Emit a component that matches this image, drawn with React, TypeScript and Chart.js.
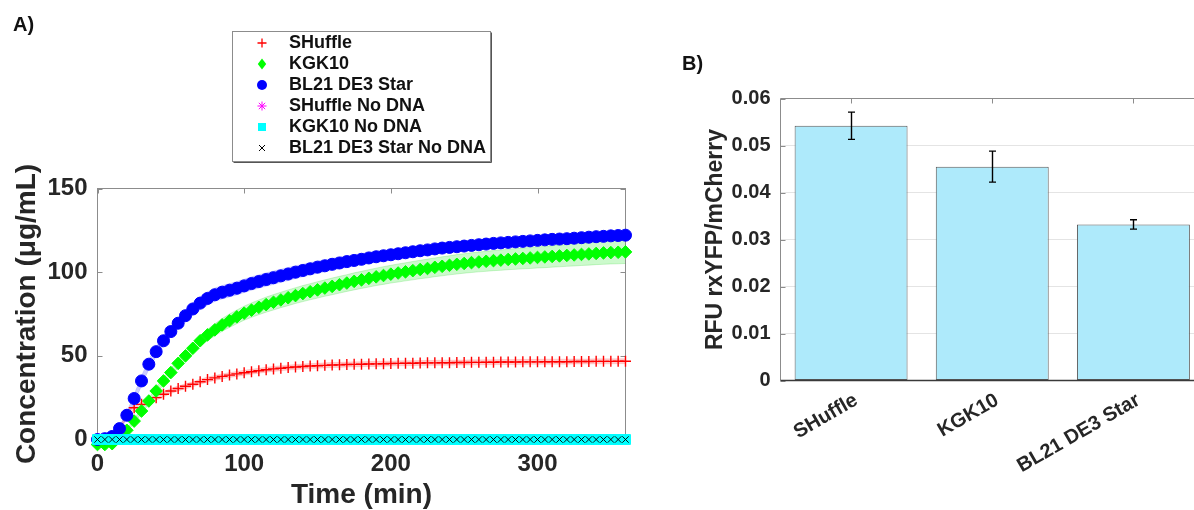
import React, { useEffect, useRef } from 'react';
import { Chart, registerables } from 'chart.js';

Chart.register(...registerables);

const FONT = "'Liberation Sans', Arial, Helvetica, sans-serif";
const TEXT = '#262626';

// ---------- Panel A: concentration vs time ----------
const TIME_MIN = [
  0, 5, 10, 15, 20, 25, 30, 35, 40, 45,
  50, 55, 60, 65, 70, 75, 80, 85, 90, 95,
  100, 105, 110, 115, 120, 125, 130, 135, 140, 145,
  150, 155, 160, 165, 170, 175, 180, 185, 190, 195,
  200, 205, 210, 215, 220, 225, 230, 235, 240, 245,
  250, 255, 260, 265, 270, 275, 280, 285, 290, 295,
  300, 305, 310, 315, 320, 325, 330, 335, 340, 345,
  350, 355, 360,
];

const SHUFFLE = [
  0, 0, 0.5, 6, 15, 19, 21, 23, 25, 27,
  29, 30.5, 31.8, 33, 34.5, 35.8, 36.8, 37.7, 38.5, 39.2,
  39.9, 40.5, 41.1, 41.7, 42.2, 42.6, 43, 43.3, 43.6, 43.9,
  44.1, 44.3, 44.5, 44.6, 44.8, 44.9, 45, 45.1, 45.2, 45.3,
  45.4, 45.5, 45.6, 45.6, 45.7, 45.8, 45.8, 45.9, 45.9, 46,
  46, 46.1, 46.1, 46.2, 46.2, 46.3, 46.3, 46.3, 46.4, 46.4,
  46.4, 46.5, 46.5, 46.5, 46.5, 46.6, 46.6, 46.6, 46.7, 46.7,
  46.7, 46.8, 46.8,
];
const SHUFFLE_SD = [
  0, 0, 0.3, 1, 1.5, 1.5, 1.5, 1.5, 1.5, 1.5,
  1.5, 1.5, 1.5, 1.5, 1.5, 1.5, 1.5, 1.5, 1.5, 1.5,
  1.5, 1.5, 1.5, 1.5, 1.5, 1.5, 1.5, 1.5, 1.5, 1.5,
  1.5, 1.5, 1.5, 1.5, 1.5, 1.5, 1.5, 1.5, 1.5, 1.5,
  1.5, 1.5, 1.5, 1.5, 1.5, 1.5, 1.5, 1.5, 1.5, 1.5,
  1.5, 1.5, 1.5, 1.5, 1.5, 1.5, 1.5, 1.5, 1.5, 1.5,
  1.5, 1.5, 1.5, 1.5, 1.5, 1.5, 1.5, 1.5, 1.5, 1.5,
  1.5, 1.5, 1.5,
];

const KGK10 = [
  -3, -3, -2.5, 1, 5.5, 11, 17, 23, 29, 35,
  40, 45.5, 50, 54.5, 59, 62.5, 65.5, 68.5, 71, 73.3,
  75.5, 77.3, 79, 80.6, 82, 83.4, 84.7, 86, 87.2, 88.3,
  89.4, 90.5, 91.5, 92.5, 93.5, 94.5, 95.4, 96.3, 97.2, 98,
  98.8, 99.5, 100.2, 100.9, 101.6, 102.2, 102.9, 103.5, 104.1, 104.7,
  105.2, 105.7, 106.1, 106.5, 106.9, 107.2, 107.6, 107.9, 108.2, 108.5,
  108.8, 109.1, 109.4, 109.7, 110, 110.3, 110.6, 110.9, 111.2, 111.5,
  111.7, 111.9, 112.1,
];
const KGK10_SD = [
  0.5, 0.5, 0.5, 0.8, 1, 1.2, 1.5, 1.8, 2, 2.2,
  2.4, 2.6, 2.8, 3, 3.2, 3.4, 3.6, 3.8, 4, 4.1,
  4.2, 4.3, 4.4, 4.5, 4.6, 4.6, 4.7, 4.7, 4.8, 4.8,
  4.9, 4.9, 5, 5, 5, 5.1, 5.1, 5.2, 5.2, 5.3,
  5.3, 5.4, 5.4, 5.5, 5.5, 5.6, 5.6, 5.7, 5.7, 5.8,
  5.8, 5.9, 5.9, 6, 6, 6.1, 6.1, 6.2, 6.2, 6.3,
  6.3, 6.4, 6.4, 6.5, 6.5, 6.6, 6.6, 6.7, 6.7, 6.8,
  6.8, 6.9, 6.9,
];

const BL21 = [
  0, 0.5, 1.8, 6.5, 14.5, 24.5, 35, 45, 52.5, 59,
  64.5, 69.5, 74, 78, 81.5, 84.3, 86.5, 88, 89.2, 90.4,
  91.8, 93.2, 94.4, 95.6, 96.7, 97.8, 98.9, 100, 101, 102,
  103, 103.8, 104.7, 105.5, 106.3, 107, 107.7, 108.5, 109.2, 109.8,
  110.4, 111, 111.6, 112.2, 112.8, 113.3, 113.9, 114.4, 114.8, 115.2,
  115.6, 116, 116.4, 116.8, 117.2, 117.5, 117.8, 118.1, 118.4, 118.7,
  119, 119.3, 119.6, 119.8, 120, 120.3, 120.6, 120.9, 121.2, 121.4,
  121.7, 121.9, 122.1,
];
const BL21_SD = [
  0.3, 0.5, 1, 1.5, 2, 2.5, 3, 3, 3, 3,
  3.2, 3.4, 3.6, 3.8, 4, 4, 4, 4, 4, 4,
  4, 4, 4, 4, 4, 3.9, 3.9, 3.8, 3.8, 3.7,
  3.7, 3.6, 3.6, 3.5, 3.5, 3.5, 3.4, 3.4, 3.4, 3.3,
  3.3, 3.3, 3.2, 3.2, 3.2, 3.1, 3.1, 3.1, 3, 3,
  3, 3, 3, 3, 3, 2.9, 2.9, 2.9, 2.9, 2.9,
  2.8, 2.8, 2.8, 2.8, 2.8, 2.7, 2.7, 2.7, 2.7, 2.7,
  2.6, 2.6, 2.6,
];

const SHUFFLE_NO_DNA = [
  0, 0, 0, 0, 0, 0, 0, 0, 0, 0,
  0, 0, 0, 0, 0, 0, 0, 0, 0, 0,
  0, 0, 0, 0, 0, 0, 0, 0, 0, 0,
  0, 0, 0, 0, 0, 0, 0, 0, 0, 0,
  0, 0, 0, 0, 0, 0, 0, 0, 0, 0,
  0, 0, 0, 0, 0, 0, 0, 0, 0, 0,
  0, 0, 0, 0, 0, 0, 0, 0, 0, 0,
  0, 0, 0,
];
const KGK10_NO_DNA = [
  0, 0, 0, 0, 0, 0, 0, 0, 0, 0,
  0, 0, 0, 0, 0, 0, 0, 0, 0, 0,
  0, 0, 0, 0, 0, 0, 0, 0, 0, 0,
  0, 0, 0, 0, 0, 0, 0, 0, 0, 0,
  0, 0, 0, 0, 0, 0, 0, 0, 0, 0,
  0, 0, 0, 0, 0, 0, 0, 0, 0, 0,
  0, 0, 0, 0, 0, 0, 0, 0, 0, 0,
  0, 0, 0,
];
const BL21_NO_DNA = [
  0, 0, 0, 0, 0, 0, 0, 0, 0, 0,
  0, 0, 0, 0, 0, 0, 0, 0, 0, 0,
  0, 0, 0, 0, 0, 0, 0, 0, 0, 0,
  0, 0, 0, 0, 0, 0, 0, 0, 0, 0,
  0, 0, 0, 0, 0, 0, 0, 0, 0, 0,
  0, 0, 0, 0, 0, 0, 0, 0, 0, 0,
  0, 0, 0, 0, 0, 0, 0, 0, 0, 0,
  0, 0, 0,
];

const TIME_MAX = 360;
const CONC_MAX = 150;
const TIME_STEP = 100;
const CONC_STEP = 50;

// ---------- Panel B: RFU ratio bars ----------
const STRAINS = ['SHuffle', 'KGK10', 'BL21 DE3 Star'];
const RATIO_MEAN = [0.0542, 0.0455, 0.0332];
const RATIO_ERR = [0.0029, 0.0033, 0.001];
const RATIO_MAX = 0.06;
const RATIO_STEP = 0.01;

type Pt = { x: number; y: number };
const pts = (vals: number[]): Pt[] => TIME_MIN.map((t, i) => ({ x: t, y: vals[i] }));
const bandPts = (vals: number[], sd: number[], sign: number): Pt[] =>
  TIME_MIN.map((t, i) => ({ x: t, y: vals[i] + sign * sd[i] }));

function markerDataset(
  label: string, vals: number[], style: string, radius: number,
  stroke: string, fill: string, bw: number, order: number,
) {
  return {
    label,
    data: pts(vals),
    showLine: false,
    pointStyle: style,
    pointRadius: radius,
    pointHoverRadius: radius,
    pointBorderColor: stroke,
    pointBackgroundColor: fill,
    pointBorderWidth: bw,
    borderColor: stroke,
    backgroundColor: fill,
    order,
    clip: false,
  };
}

function bandDatasets(vals: number[], sd: number[], fill: string, edge: string) {
  const common = {
    showLine: true,
    pointRadius: 0,
    pointHoverRadius: 0,
    borderWidth: 1,
    borderColor: edge,
    tension: 0,
    order: 30,
    clip: false,
  };
  return [
    { ...common, label: '_hi', data: bandPts(vals, sd, 1), fill: false },
    { ...common, label: '_lo', data: bandPts(vals, sd, -1), fill: '-1', backgroundColor: fill },
  ];
}

function drawMarker(ctx: CanvasRenderingContext2D, style: string, x: number, y: number, stroke: string, fill: string) {
  ctx.save();
  ctx.strokeStyle = stroke;
  ctx.fillStyle = fill;
  ctx.lineWidth = 1.3;
  ctx.beginPath();
  if (style === 'cross') {
    ctx.moveTo(x - 4.5, y); ctx.lineTo(x + 4.5, y);
    ctx.moveTo(x, y - 4.5); ctx.lineTo(x, y + 4.5);
    ctx.stroke();
  } else if (style === 'rectRot') {
    ctx.moveTo(x, y - 5.5); ctx.lineTo(x + 4.2, y); ctx.lineTo(x, y + 5.5); ctx.lineTo(x - 4.2, y);
    ctx.closePath(); ctx.fill();
  } else if (style === 'circle') {
    ctx.arc(x, y, 5, 0, Math.PI * 2); ctx.fill();
  } else if (style === 'star') {
    const r = 4.5;
    ctx.lineWidth = 1;
    ctx.moveTo(x - r, y); ctx.lineTo(x + r, y);
    ctx.moveTo(x, y - r); ctx.lineTo(x, y + r);
    const d = r * Math.SQRT1_2;
    ctx.moveTo(x - d, y - d); ctx.lineTo(x + d, y + d);
    ctx.moveTo(x - d, y + d); ctx.lineTo(x + d, y - d);
    ctx.stroke();
  } else if (style === 'rect') {
    ctx.fillRect(x - 4, y - 4, 8, 8);
  } else if (style === 'crossRot') {
    ctx.lineWidth = 1;
    ctx.moveTo(x - 3, y - 3); ctx.lineTo(x + 3, y + 3);
    ctx.moveTo(x - 3, y + 3); ctx.lineTo(x + 3, y - 3);
    ctx.stroke();
  }
  ctx.restore();
}

const legendPlugin = {
  id: 'boxLegend',
  afterDraw(chart: any) {
    const ctx: CanvasRenderingContext2D = chart.ctx;
    const items = chart.data.datasets.filter((d: any) => d.showLine === false);
    const x0 = 232.5, y0 = 31.5, w = 258, h = 130;
    ctx.save();
    ctx.fillStyle = '#ffffff';
    ctx.fillRect(x0, y0, w, h);
    ctx.strokeStyle = '#8c8c8c';
    ctx.lineWidth = 1;
    ctx.strokeRect(x0, y0, w, h);
    ctx.strokeStyle = '#555';
    ctx.beginPath();
    ctx.moveTo(x0 + 1, y0 + h + 1); ctx.lineTo(x0 + w + 1, y0 + h + 1); ctx.lineTo(x0 + w + 1, y0 + 1);
    ctx.stroke();
    items.forEach((d: any, i: number) => {
      const cy = 43 + i * 21;
      drawMarker(ctx, d.pointStyle, 262, cy, d.pointBorderColor, d.pointBackgroundColor);
      ctx.fillStyle = '#111';
      ctx.font = `bold 18px ${FONT}`;
      ctx.textBaseline = 'middle';
      ctx.textAlign = 'left';
      ctx.fillText(d.label, 289, cy);
    });
    ctx.restore();
  },
};

const leftFrame = {
  id: 'leftFrame',
  beforeDatasetsDraw(chart: any) {
    const { ctx, chartArea: a } = chart;
    const xs = chart.scales.x, ys = chart.scales.y;
    ctx.save();
    ctx.strokeStyle = '#8c8c8c';
    ctx.lineWidth = 1;
    ctx.strokeRect(a.left, a.top, a.right - a.left, a.bottom - a.top);
    ctx.beginPath();
    xs.ticks.forEach((t: any) => {
      const p = Math.round(xs.getPixelForValue(t.value)) + 0.5;
      ctx.moveTo(p, a.bottom); ctx.lineTo(p, a.bottom - 5);
      ctx.moveTo(p, a.top); ctx.lineTo(p, a.top + 5);
    });
    ys.ticks.forEach((t: any) => {
      const p = Math.round(ys.getPixelForValue(t.value)) + 0.5;
      ctx.moveTo(a.left, p); ctx.lineTo(a.left + 5, p);
      ctx.moveTo(a.right, p); ctx.lineTo(a.right - 5, p);
    });
    ctx.stroke();
    ctx.restore();
  },
};

const rightFrame = {
  id: 'rightFrame',
  afterDatasetsDraw(chart: any) {
    const { ctx, chartArea: a } = chart;
    const xs = chart.scales.x, ys = chart.scales.y;
    ctx.save();
    ctx.strokeStyle = '#8c8c8c';
    ctx.lineWidth = 1;
    ctx.beginPath();
    ctx.moveTo(a.left, a.top); ctx.lineTo(a.right, a.top);
    ctx.moveTo(a.left, a.top); ctx.lineTo(a.left, a.bottom);
    ys.ticks.forEach((t: any) => {
      const p = Math.round(ys.getPixelForValue(t.value)) + 0.5;
      ctx.moveTo(a.left, p); ctx.lineTo(a.left + 5, p);
    });
    STRAINS.forEach((_, i) => {
      const p = Math.round(xs.getPixelForValue(i)) + 0.5;
      ctx.moveTo(p, a.top); ctx.lineTo(p, a.top + 5);
    });
    ctx.stroke();
    ctx.strokeStyle = '#3a3a3a';
    ctx.lineWidth = 1.6;
    ctx.beginPath();
    ctx.moveTo(a.left, a.bottom); ctx.lineTo(a.right, a.bottom);
    ctx.stroke();
    // error bars
    const meta = chart.getDatasetMeta(0);
    ctx.strokeStyle = '#000';
    ctx.lineWidth = 1.4;
    meta.data.forEach((bar: any, i: number) => {
      const x = Math.round(bar.x) + 0.5;
      const top = ys.getPixelForValue(RATIO_MEAN[i] + RATIO_ERR[i]);
      const bot = ys.getPixelForValue(RATIO_MEAN[i] - RATIO_ERR[i]);
      ctx.beginPath();
      ctx.moveTo(x, top); ctx.lineTo(x, bot);
      ctx.moveTo(x - 3.5, top); ctx.lineTo(x + 3.5, top);
      ctx.moveTo(x - 3.5, bot); ctx.lineTo(x + 3.5, bot);
      ctx.stroke();
    });
    ctx.restore();
  },
};

function leftConfig(): any {
  const datasets: any[] = [
    ...bandDatasets(SHUFFLE, SHUFFLE_SD, 'rgba(255,0,0,0.2)', 'rgba(255,0,0,0.12)'),
    ...bandDatasets(KGK10, KGK10_SD, 'rgba(0,230,0,0.2)', 'rgba(0,200,0,0.18)'),
    ...bandDatasets(BL21, BL21_SD, 'rgba(0,0,255,0.2)', 'rgba(0,0,255,0.12)'),
    markerDataset('SHuffle', SHUFFLE, 'cross', 5.5, '#ff0000', '#ff0000', 1.4, 5),
    markerDataset('KGK10', KGK10, 'rectRot', 6.3, '#00ff00', '#00ff00', 1, 4),
    markerDataset('BL21 DE3 Star', BL21, 'circle', 6, '#0000ff', '#0000ff', 1, 3),
    markerDataset('SHuffle No DNA', SHUFFLE_NO_DNA, 'star', 5, '#ff00ff', '#ff00ff', 1, 2),
    markerDataset('KGK10 No DNA', KGK10_NO_DNA, 'rect', 7, '#00ffff', '#00ffff', 1, 1),
    markerDataset('BL21 DE3 Star No DNA', BL21_NO_DNA, 'crossRot', 4.5, '#000000', '#000000', 0.9, 0),
  ];
  return {
    type: 'line',
    data: { datasets },
    options: {
      responsive: false,
      animation: false,
      devicePixelRatio: 1,
      events: [],
      layout: { padding: { left: 0, top: 188.5, right: 24.5, bottom: 0 } },
      plugins: { legend: { display: false }, tooltip: { enabled: false } },
      scales: {
        x: {
          type: 'linear',
          min: 0,
          max: TIME_MAX,
          grid: { display: false, drawTicks: false },
          border: { display: false },
          ticks: {
            stepSize: TIME_STEP,
            includeBounds: false,
            padding: 10,
            color: TEXT,
            font: { family: FONT, size: 24, weight: 'bold', lineHeight: 1.2 },
            maxRotation: 0,
          },
          title: {
            display: true,
            text: 'Time (min)',
            color: TEXT,
            font: { family: FONT, size: 28, weight: 'bold', lineHeight: 1 },
            padding: { top: 0, bottom: 1 },
          },
          afterFit: (s: any) => { s.height = 70.5; },
        },
        y: {
          type: 'linear',
          min: 0,
          max: CONC_MAX,
          grid: { display: false, drawTicks: false },
          border: { display: false },
          ticks: {
            stepSize: CONC_STEP,
            padding: 10,
            color: TEXT,
            font: { family: FONT, size: 24, weight: 'bold', lineHeight: 1.2 },
          },
          title: {
            display: true,
            text: 'Concentration (μg/mL)',
            color: TEXT,
            font: { family: FONT, size: 28, weight: 'bold', lineHeight: 1 },
            padding: { top: 13, bottom: 0 },
          },
          afterFit: (s: any) => { s.width = 97.5; },
        },
      },
    },
    plugins: [leftFrame, legendPlugin],
  };
}

function rightConfig(): any {
  return {
    type: 'bar',
    data: {
      labels: STRAINS,
      datasets: [
        {
          label: 'RFU rxYFP/mCherry',
          data: RATIO_MEAN,
          backgroundColor: '#aeeafb',
          borderColor: '#5a5a5a',
          borderWidth: 1,
          borderSkipped: false,
          barPercentage: 0.8,
          categoryPercentage: 1,
        },
      ],
    },
    options: {
      responsive: false,
      animation: false,
      devicePixelRatio: 1,
      events: [],
      layout: { padding: { left: 0, top: 98.5, right: 16, bottom: 0 } },
      plugins: { legend: { display: false }, tooltip: { enabled: false } },
      scales: {
        x: {
          type: 'category',
          offset: true,
          grid: { display: false, drawTicks: false },
          border: { display: false },
          ticks: {
            color: TEXT,
            font: { family: FONT, size: 20, weight: 'bold', lineHeight: 1.2 },
            minRotation: 30,
            maxRotation: 30,
            autoSkip: false,
            padding: 8,
            labelOffset: 5,
          },
          afterFit: (s: any) => { s.height = 129.5; },
        },
        y: {
          type: 'linear',
          min: 0,
          max: RATIO_MAX,
          grid: { display: true, drawTicks: false, color: '#e4e4e4', lineWidth: 1 },
          border: { display: false },
          ticks: {
            stepSize: RATIO_STEP,
            padding: 10,
            color: TEXT,
            font: { family: FONT, size: 20, weight: 'bold', lineHeight: 1.2 },
            callback: (v: any) => (Number(v) === 0 ? '0' : Number(v).toFixed(2)),
          },
          title: {
            display: true,
            text: 'RFU rxYFP/mCherry',
            color: TEXT,
            font: { family: FONT, size: 23, weight: 'bold', lineHeight: 1 },
            padding: { top: 24, bottom: 0 },
          },
          afterFit: (s: any) => { s.width = 100.5; },
        },
      },
    },
    plugins: [rightFrame],
  };
}

export default function App() {
  const leftRef = useRef<HTMLCanvasElement | null>(null);
  const rightRef = useRef<HTMLCanvasElement | null>(null);

  useEffect(() => {
    const c1 = new Chart(leftRef.current as HTMLCanvasElement, leftConfig());
    const c2 = new Chart(rightRef.current as HTMLCanvasElement, rightConfig());
    return () => {
      c1.destroy();
      c2.destroy();
    };
  }, []);

  const panelLabel: React.CSSProperties = {
    position: 'absolute',
    font: `bold 20px ${FONT}`,
    lineHeight: '20px',
    color: '#111',
    margin: 0,
  };

  return (
    <div style={{ position: 'fixed', left: 0, top: 0, width: 1194, height: 510, overflow: 'hidden', background: '#ffffff' }}>
      <canvas ref={leftRef} width={650} height={510} style={{ position: 'absolute', left: 0, top: 0, width: 650, height: 510 }} />
      <canvas ref={rightRef} width={540} height={510} style={{ position: 'absolute', left: 680, top: 0, width: 540, height: 510 }} />
      <div style={{ ...panelLabel, left: 13, top: 14 }}>A)</div>
      <div style={{ ...panelLabel, left: 682, top: 53 }}>B)</div>
    </div>
  );
}
